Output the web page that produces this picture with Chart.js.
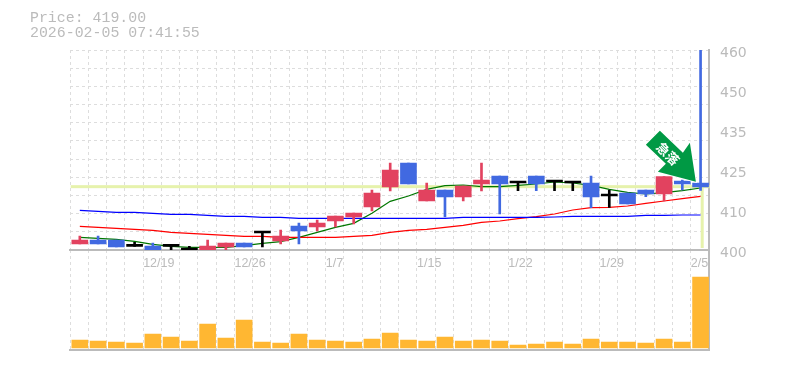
<!DOCTYPE html>
<html>
<head>
<meta charset="utf-8">
<script src="https://cdn.jsdelivr.net/npm/chart.js@4"></script>
<style>
  body { margin: 0; background: #fff; }
  #wrap { position: relative; width: 785px; height: 370px; overflow: hidden; }
  canvas { position: absolute; left: 0; }
  #price-chart { top: 0; }
  #volume-chart { top: 250px; }
  #head { position: absolute; left: 30px; top: 11px; font: 14.9px/15px "Liberation Mono", monospace; color: #bbb; white-space: pre; z-index: 2; }
</style>
</head>
<body>
<div id="wrap">
  <canvas id="volume-chart" width="785" height="105"></canvas>
  <canvas id="price-chart" width="785" height="280"></canvas>
  <div id="head">Price: 419.00
2026-02-05 07:41:55</div>
</div>
<script>
const categories = ["12/15","12/16","12/17","12/18","12/19","12/22","12/23","12/24","12/25","12/26",
  "12/29","12/30","1/5","1/6","1/7","1/8","1/9","1/13","1/14","1/15",
  "1/16","1/19","1/20","1/21","1/22","1/23","1/26","1/27","1/28","1/29",
  "1/30","2/2","2/3","2/4","2/5"];
const tickDates = ["12/19","12/26","1/7","1/15","1/22","1/29","2/5"];
const priceTicks = [400,412,424,436,448,460];

const opens  = [401.8,403,403,401.1,401.2,401.1,399.9,399.7,400.9,402.1,405.1,402.7,407.2,406.9,408.7,409.9,412.9,418.9,426.1,414.7,418,415.9,419.8,422.2,420.1,422.2,420.4,420.1,420.1,416.2,417.1,418,416.8,420.7,420.1];
const highs  = [404.2,404.2,403,402.3,402.1,401.1,401.1,403,402.1,402.1,405.1,406,408.1,409,410.2,411.1,418,426.1,426.1,420.1,418,419.2,426.1,422.2,420.1,422.2,420.4,420.1,422.2,418,417.1,418,422,421,460];
const lows   = [401.8,401.8,400.9,401.1,399.7,399.7,399.9,399.7,399.7,400.9,400.9,401.8,401.8,405.7,406.9,407.8,411.7,417.7,419.8,414.7,409.9,414.7,417.7,410.8,417.8,417.8,417.8,417.8,412.7,412.8,413.8,416,414.7,418,417.9];
const closes = [403,401.8,400.9,401.1,399.7,401.1,399.9,401.2,402.1,400.9,405.1,404.2,405.7,408.1,410.2,411.1,417.1,424,419.8,418,415.9,419.2,421,419.8,420.1,419.8,420.4,420.1,415.9,416.2,413.8,416.8,422,419.8,418.9];

const maGreen = [403.8,403.5,403.2,402.6,401.7,401.1,400.8,400.8,400.8,401.3,402,402.5,403.8,405.3,406.8,408,411,414.6,416.2,418.2,419.3,419.5,419,419,419.4,419.8,420.4,420.1,419.4,418.2,417.3,416.8,417.2,417.8,418.6];
const maRed   = [407.1,406.8,406.5,406.2,405.9,405.3,405,404.7,404.4,404.1,404.1,403.8,403.8,403.8,403.8,404.1,404.4,405.3,405.9,406.2,406.8,407.4,408.3,408.7,409.4,410,410.8,412,412.7,412.8,413.2,414,414.7,415.4,416.1];
const maBlue  = [411.9,411.6,411.3,411.3,411,410.7,410.7,410.4,410.1,410.1,409.8,409.8,409.5,409.5,409.5,409.5,409.5,409.5,409.5,409.5,409.5,409.8,409.8,409.8,409.8,409.8,409.9,410.1,410.1,410.1,410.1,410.4,410.4,410.5,410.5];

const volumes = [8,7,6,5,14,11,7,24,10,28,6,5,14,8,7,6,9,15,8,7,11,7,8,7,3,4,6,4,9,6,6,5,9,6,71];

const lastPrice = 419;
const arrowLabel = "急落";

const RED = "#e2425f", BLUE = "#4169e1", BLACK = "#000000";
const GRID = "#dddddd", AXIS = "#bbbbbb", PALE = "#e6f2ac", LABEL = "#bbbbbb";

function candleColor(i) {
  if (closes[i] > opens[i]) return RED;
  if (closes[i] < opens[i]) return BLUE;
  return BLACK;
}
const candleColors = categories.map((c, i) => candleColor(i));

// marks sit a bit right of the category centre in the original
const nudgeMarks = {
  id: "nudgeMarks",
  beforeDatasetsDraw(chart) {
    chart.ctx.save();
    chart.ctx.translate(0.7, 0);
  },
  afterDatasetsDraw(chart) {
    chart.ctx.restore();
  }
};

// pale line at the last price, plus the arrow on top of the candles
const priceMarks = {
  id: "priceMarks",
  beforeDatasetsDraw(chart) {
    const { ctx, chartArea, scales } = chart;
    const y = scales.y.getPixelForValue(lastPrice);
    const x = Math.round(scales.x.getPixelForValue(categories.length - 1));
    ctx.save();
    ctx.fillStyle = PALE;
    ctx.fillRect(chartArea.left, y - 1.5, chartArea.right - chartArea.left, 3);
    ctx.fillRect(x, y, 3, scales.y.getPixelForValue(400.6) - y);
    ctx.restore();
  },
  afterDatasetsDraw(chart) {
    const { ctx, scales } = chart;
    const tipX = scales.x.getPixelForValue(categories.length - 1) - 4;
    const tipY = scales.y.getPixelForValue(lastPrice) - 5;
    const outline = [[-36,-51],[-13,-29],[-6,-39],[0,0],[-38,-10],[-30,-18],[-50,-37]];
    ctx.save();
    ctx.beginPath();
    outline.forEach((p, i) => {
      if (i === 0) ctx.moveTo(tipX + p[0], tipY + p[1]);
      else ctx.lineTo(tipX + p[0], tipY + p[1]);
    });
    ctx.closePath();
    ctx.lineWidth = 2;
    ctx.strokeStyle = "#ffffff";
    ctx.stroke();
    ctx.fillStyle = "#009944";
    ctx.fill();
    ctx.translate(tipX - 28, tipY - 28);
    ctx.rotate(Math.PI / 4);
    ctx.fillStyle = "#ffffff";
    ctx.font = 'bold 13px "Noto Sans CJK JP"';
    ctx.textAlign = "center";
    ctx.textBaseline = "middle";
    ctx.fillText(arrowLabel, 0, 0);
    ctx.restore();
  }
};

function maLine(values, color) {
  return { type: "line", data: values, borderColor: color, borderWidth: 1.2, pointRadius: 0, tension: 0, order: 3 };
}

new Chart(document.getElementById("price-chart"), {
  data: {
    labels: categories,
    datasets: [
      { type: "bar", data: categories.map((c, i) => [opens[i], closes[i]]), backgroundColor: candleColors, barThickness: 16, minBarLength: 2, grouped: false, order: 1 },
      { type: "bar", data: categories.map((c, i) => [lows[i], highs[i]]), backgroundColor: candleColors, barThickness: 2, grouped: false, order: 2 },
      maLine(maBlue, "#0000ff"),
      maLine(maRed, "#ff0000"),
      maLine(maGreen, "#007700")
    ]
  },
  options: {
    responsive: false,
    animation: false,
    layout: { padding: { left: 70, top: 50, right: 0, bottom: 0 } },
    plugins: { legend: { display: false }, tooltip: { enabled: false } },
    scales: {
      x: {
        offset: true,
        grid: { color: GRID, offset: true, drawTicks: false },
        border: { color: AXIS, width: 2, dash: [3, 3] },
        ticks: {
          autoSkip: false, maxRotation: 0, minRotation: 0, padding: 6, align: "start", labelOffset: -9,
          color: LABEL, font: { family: "Liberation Sans", size: 12.5 },
          callback(v) { const d = categories[v]; return tickDates.includes(d) ? d : ""; }
        },
        afterFit(s) { s.height = 30; }
      },
      y: {
        position: "right", min: 400, max: 460,
        grid: { color: GRID, drawTicks: false },
        border: { color: AXIS, width: 2, dash: [3, 3] },
        ticks: { display: false },
        afterBuildTicks(s) { s.ticks = Array.from({ length: 12 }, (_, k) => ({ value: 400 + k * 60 / 11 })); },
        afterFit(s) { s.width = 0; }
      },
      yLabels: {
        position: "right", min: 400, max: 460,
        grid: { display: false, drawTicks: false },
        border: { display: false },
        ticks: {
          color: LABEL, padding: 11, labelOffset: 3, font: { family: "DejaVu Sans", size: 14 },
          callback(v) { return Math.round(v / 5) * 5; }
        },
        afterBuildTicks(s) { s.ticks = priceTicks.map(v => ({ value: v })); },
        afterFit(s) { s.width = 76; }
      }
    }
  },
  plugins: [nudgeMarks, priceMarks]
});

new Chart(document.getElementById("volume-chart"), {
  data: {
    labels: categories,
    datasets: [
      { type: "bar", data: volumes, backgroundColor: "#ffb732", barThickness: 16 }
    ]
  },
  options: {
    responsive: false,
    animation: false,
    layout: { padding: { left: 70, top: 0, right: 0, bottom: 0 } },
    plugins: { legend: { display: false }, tooltip: { enabled: false } },
    scales: {
      x: {
        offset: true,
        grid: { color: GRID, offset: true, drawTicks: false },
        border: { color: AXIS, width: 2, dash: [3, 3] },
        ticks: { display: false, autoSkip: false },
        afterFit(s) { s.height = 5; }
      },
      y: {
        position: "right", min: -2, max: 98,
        grid: { display: false, drawTicks: false },
        border: { color: AXIS, width: 2 },
        ticks: { display: false },
        afterFit(s) { s.width = 76; }
      }
    }
  },
  plugins: [nudgeMarks]
});
</script>
</body>
</html>
